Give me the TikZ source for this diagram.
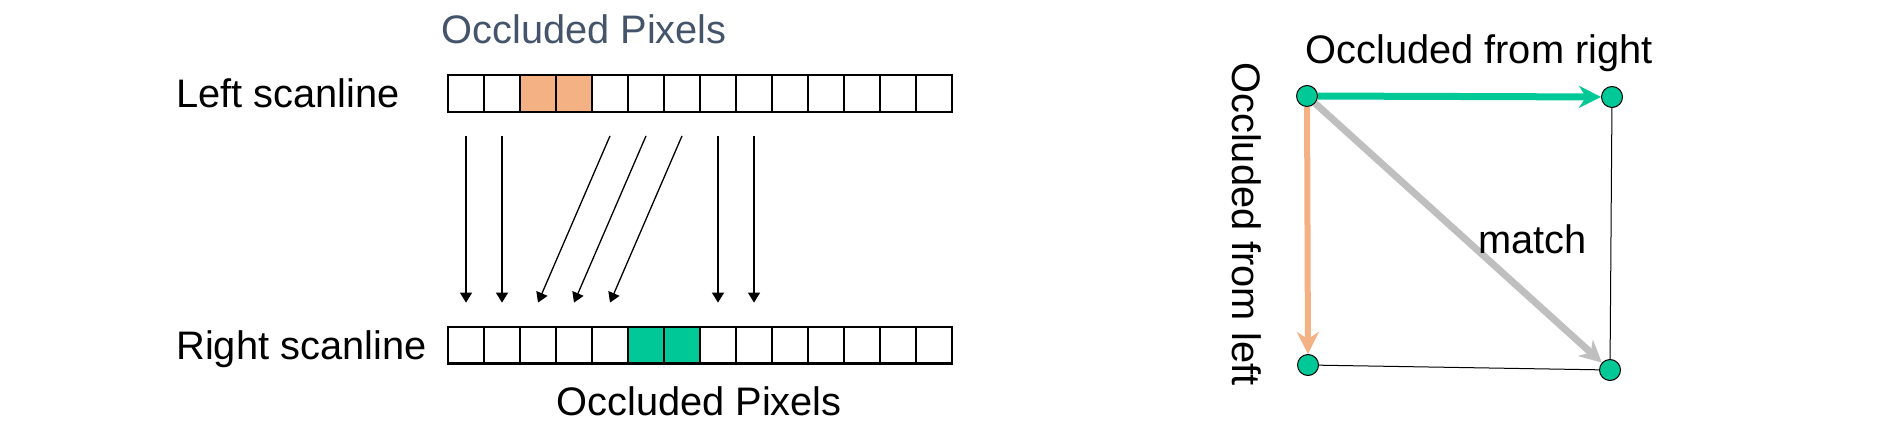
\documentclass[tikz,border=0pt]{standalone}
\usepackage{fontspec}
\setmainfont{Liberation Sans}
\usetikzlibrary{arrows.meta}
\definecolor{occgreen}{HTML}{00C896}
\definecolor{occorange}{HTML}{F4B183}
\definecolor{matchgray}{HTML}{BFBFBF}
\definecolor{slate}{HTML}{44546A}
\begin{document}
\begin{tikzpicture}[x=0.5pt,y=-0.5pt,
  cell/.style={draw,line width=1.1pt,minimum width=18pt,minimum height=18.4pt,inner sep=0pt,outer sep=0pt},
  lbl/.style={font=\fontsize{19.9pt}{23pt}\selectfont,inner sep=0pt,anchor=base west},
  map/.style={-{Triangle[length=5pt,width=6pt]},line width=0.65pt},
  vertex/.style={circle,fill=occgreen,draw=black,line width=0.5pt,minimum size=10.5pt,inner sep=0pt},
  bigtip/.style={-{Stealth[length=11pt,width=11pt,inset=3.5pt]}},
  thinedge/.style={draw=black,line width=0.5pt}
]
\path[use as bounding box] (0,0) rectangle (1904,438);

% scanlines
\foreach \i in {0,...,13} {
  \node[cell] (L\i) at ({466+36*\i},93.5) {};
  \node[cell] (R\i) at ({466+36*\i},345) {};
}
\foreach \i in {2,3} {\node[cell,fill=occorange] (L\i) at ({466+36*\i},93.5) {};}
\foreach \i in {5,6} {\node[cell,fill=occgreen] (R\i) at ({466+36*\i},345) {};}

% correspondences
\foreach \a/\b in {0/0,1/1,4/2,5/3,6/4,7/7,8/8}
  \draw[map] ([yshift=-12pt]L\a.south) -- ([yshift=12pt]R\b.north);

% texts
\node[lbl] (lefttxt) at (176,108) {Left scanline};
\node[lbl] (righttxt) at (176,359) {Right scanline};
\node[lbl,text=slate] (occtop) at (441,44) {Occluded Pixels};
\node[lbl] (occbot) at (556,415) {Occluded Pixels};

% graph
\node[vertex] (TL) at (1307,96) {};
\node[vertex] (TR) at (1612,97) {};
\node[vertex] (BL) at (1308,365) {};
\node[vertex] (BR) at (1610,370) {};
\draw[thinedge] (TR) -- (BR);
\draw[thinedge] (BL) -- (BR);
\draw[bigtip,draw=occorange,fill=occorange,line width=3pt] (TL) -- (BL);
\draw[bigtip,draw=matchgray,fill=matchgray,line width=3.5pt] (TL) -- (BR);
\draw[bigtip,draw=occgreen,fill=occgreen,line width=3.5pt] (TL) -- (TR);

\node[lbl] (ofr) at (1305,64) {Occluded from right};
\node[lbl] (match) at (1478,253) {match};
\node[lbl,rotate=-90] (ofl) at (1232,62) {Occluded from left};
\end{tikzpicture}
\end{document}
